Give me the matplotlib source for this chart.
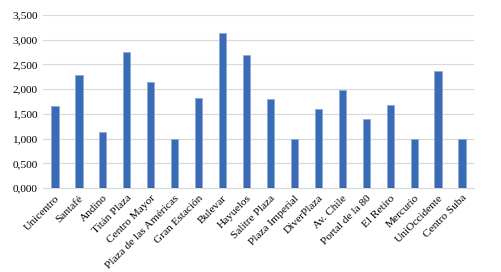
import matplotlib
matplotlib.use("Agg")
import matplotlib.pyplot as plt
import numpy as np

centros = ["Unicentro", "Santafé", "Andino", "Titán Plaza", "Centro Mayor",
           "Plaza de las Américas", "Gran Estación", "Bulevar", "Hayuelos",
           "Salitre Plaza", "Plaza Imperial", "DiverPlaza", "Av. Chile",
           "Portal de la 80", "El Retiro", "Mercurio", "UniOccidente", "Centro Suba"]
valores = [1.650, 2.295, 1.140, 2.750, 2.150, 1.000, 1.815, 3.140, 2.690,
           1.800, 1.000, 1.595, 1.990, 1.400, 1.670, 1.000, 2.360, 1.000]
yticks = np.arange(0, 3.501, 0.5)

plt.rcParams['font.family'] = ['Liberation Serif', 'DejaVu Serif']

fig = plt.figure(figsize=(5.01, 2.72), dpi=100)
ax = fig.add_axes([43/501, 1 - 188/272, (474-43)/501, (188-15)/272])

x = np.arange(len(centros))
ax.bar(x, valores, width=0.3, color='#3a6bb6', edgecolor='#8fa9d6', linewidth=0.6, zorder=3)

ax.set_ylim(0, 3.5)
ax.set_xlim(-0.5, len(centros) - 0.5)
ax.set_yticks(yticks)
ax.set_yticklabels([f"{v:.3f}".replace('.', ',') for v in yticks], fontsize=8.2)
ax.set_xticks(x)
ax.set_xticklabels(centros, rotation=45, ha='right', rotation_mode='anchor', fontsize=8.2)
ax.tick_params(axis='both', length=0, pad=4)
ax.grid(axis='y', color='#d9d9d9', linewidth=0.8, zorder=0)
for s in ['top', 'right', 'left']:
    ax.spines[s].set_visible(False)
ax.spines['bottom'].set_color('#d9d9d9')

fig.savefig("out.png", dpi=100)
